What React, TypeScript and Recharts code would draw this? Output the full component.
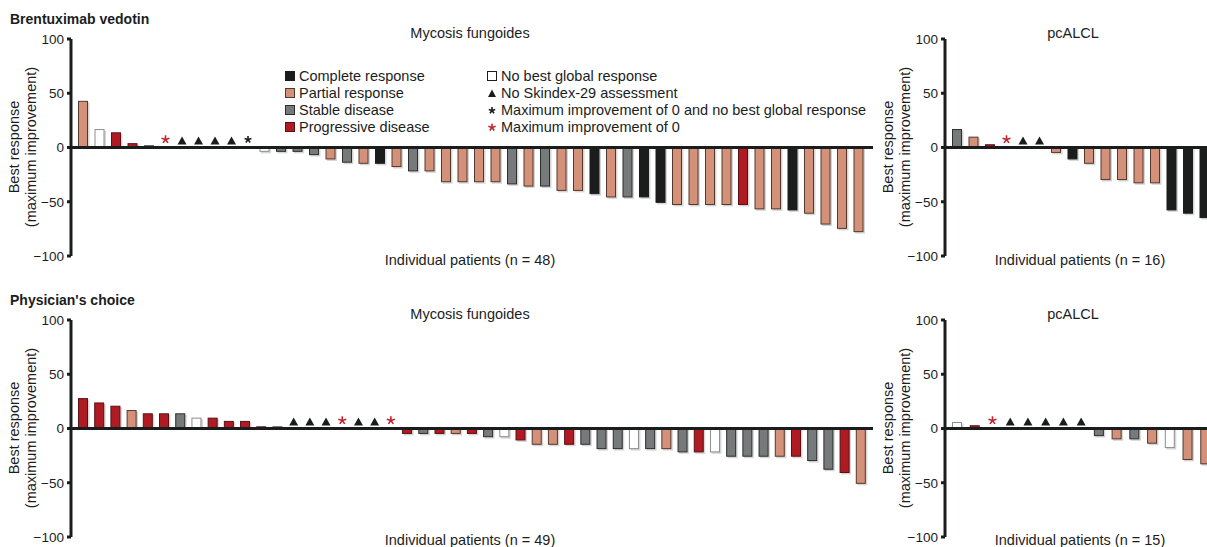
import React from "react";
import { BarChart, Bar, XAxis, YAxis, ReferenceLine } from "recharts";

type Status = "CR" | "PR" | "SD" | "PD" | "NBGR" | "NS" | "ZN" | "Z0";

// Brentuximab vedotin – mycosis fungoides (n = 48)
const BV_MF_VALUES = [
  43, 17, 14, 4, 2, 0, 0, 0, 0, 0, 0, -4, -4, -4, -7, -11, -14, -15, -15, -18,
  -22, -22, -32, -32, -32, -32, -34, -36, -36, -40, -40, -43, -46, -46, -46, -51,
  -53, -53, -53, -53, -53, -57, -57, -58, -61, -71, -75, -78,
];
const BV_MF_STATUS: Status[] = [
  "PR", "NBGR", "PD", "PD", "SD", "Z0", "NS", "NS", "NS", "NS", "ZN", "NBGR", "SD", "SD", "SD", "PR", "SD", "PR", "CR", "PR",
  "SD", "PR", "PR", "PR", "PR", "PR", "SD", "PR", "SD", "PR", "PR", "CR", "PR", "SD", "CR", "CR",
  "PR", "PR", "PR", "PR", "PD", "PR", "PR", "CR", "PR", "PR", "PR", "PR",
];

// Brentuximab vedotin – pcALCL (n = 16)
const BV_ALCL_VALUES = [17, 10, 3, 0, 0, 0, -5, -11, -15, -30, -30, -33, -33, -58, -61, -65];
const BV_ALCL_STATUS: Status[] = [
  "SD", "PR", "PD", "Z0", "NS", "NS", "PR", "CR", "PR", "PR", "PR", "PR", "PR", "CR", "CR", "CR",
];

// Physician's choice – mycosis fungoides (n = 49)
const PC_MF_VALUES = [
  28, 24, 21, 17, 14, 14, 14, 10, 10, 7, 7, 2, 2, 0, 0, 0, 0, 0, 0, 0,
  -5, -5, -5, -5, -5, -8, -8, -11, -15, -15, -15, -15, -19, -19, -19, -19, -19,
  -22, -22, -22, -26, -26, -26, -26, -26, -30, -38, -41, -51,
];
const PC_MF_STATUS: Status[] = [
  "PD", "PD", "PD", "PR", "PD", "PD", "SD", "NBGR", "PD", "PD", "PD", "PD", "PR", "NS", "NS", "NS", "Z0", "NS", "NS", "Z0",
  "PD", "SD", "PD", "PR", "PD", "SD", "NBGR", "PD", "PR", "PR", "PD", "SD", "SD", "SD", "NBGR", "SD", "PR",
  "SD", "PD", "NBGR", "SD", "SD", "SD", "PR", "PD", "SD", "SD", "PD", "PR",
];

// Physician's choice – pcALCL (n = 15)
const PC_ALCL_VALUES = [6, 3, 0, 0, 0, 0, 0, 0, -7, -10, -10, -14, -18, -29, -33];
const PC_ALCL_STATUS: Status[] = [
  "NBGR", "PD", "Z0", "NS", "NS", "NS", "NS", "NS", "SD", "PR", "SD", "PR", "NBGR", "PR", "PR",
];

const Y_TICKS = [-100, -50, 0, 50, 100];

const LEGEND_LEFT: { label: string; status: Status }[] = [
  { label: "Complete response", status: "CR" },
  { label: "Partial response", status: "PR" },
  { label: "Stable disease", status: "SD" },
  { label: "Progressive disease", status: "PD" },
];
const LEGEND_RIGHT: { label: string; status: Status }[] = [
  { label: "No best global response", status: "NBGR" },
  { label: "No Skindex-29 assessment", status: "NS" },
  { label: "Maximum improvement of 0 and no best global response", status: "ZN" },
  { label: "Maximum improvement of 0", status: "Z0" },
];

const INK = "#1b1d1d";
const RED_STAR = "#c0242c";
const PLOT_H = 217;
const FONT_SIZE = 14.5;

const COLORS: Record<string, { fill: string; stroke: string }> = {
  CR: { fill: "#1b1d1d", stroke: "#1b1d1d" },
  PR: { fill: "#d4917a", stroke: "#55382c" },
  SD: { fill: "#767a7a", stroke: "#2c2e2e" },
  PD: { fill: "#ae1b23", stroke: "#5c1014" },
  NBGR: { fill: "#ffffff", stroke: "#8e8e8e" },
};

function Star({ cx, cy, r, color }: { cx: number; cy: number; r: number; color: string }) {
  const arms = [0, 72, 144, 216, 288].map((a) => {
    const rad = ((a - 90) * Math.PI) / 180;
    return <line key={a} x1={cx} y1={cy} x2={cx + r * Math.cos(rad)} y2={cy + r * Math.sin(rad)} stroke={color} strokeWidth={1.6} />;
  });
  return <g>{arms}</g>;
}

function Marker({ status, cx, base }: { status: Status; cx: number; base: number }) {
  if (status === "NS") {
    return <path d={`M${cx - 4.5},${base - 3} L${cx + 4.5},${base - 3} L${cx},${base - 11} Z`} fill={INK} />;
  }
  if (status === "ZN") return <Star cx={cx} cy={base - 8} r={3.6} color={INK} />;
  return <Star cx={cx} cy={base - 8} r={4.2} color={RED_STAR} />;
}

const BarShape = (props: any) => {
  const { x, y, width, height, payload } = props;
  const status: Status = payload.status;
  if (status === "NS" || status === "ZN" || status === "Z0") {
    return <Marker status={status} cx={x + width / 2} base={y} />;
  }
  const c = COLORS[status];
  const top = Math.min(y, y + height);
  const h = Math.abs(height);
  if (!h) return <g />;
  return (
    <g>
      <rect x={x + 1.5} y={top + 1.5} width={width} height={h} fill="#b5b5b5" opacity={0.55} />
      <rect x={x + 0.5} y={top + 0.5} width={width - 1} height={Math.max(h - 1, 0.5)} fill={c.fill} stroke={c.stroke} strokeWidth={1} />
    </g>
  );
};

function Panel({
  values,
  statuses,
  axisX,
  plotTop,
  plotWidth,
  padLeft,
  padRight,
}: {
  values: number[];
  statuses: Status[];
  axisX: number;
  plotTop: number;
  plotWidth: number;
  padLeft: number;
  padRight: number;
}) {
  const data = values.map((v, i) => ({ patient: i + 1, value: v, status: statuses[i] }));
  const AXW = 50;
  return (
    <div style={{ position: "absolute", left: axisX - AXW, top: plotTop - 10 }}>
      <BarChart width={AXW + plotWidth} height={PLOT_H + 20} data={data} margin={{ top: 10, right: 0, bottom: 10, left: 0 }}>
        <XAxis dataKey="patient" type="category" hide padding={{ left: padLeft, right: padRight }} />
        <YAxis
          type="number"
          width={AXW}
          domain={[-100, 100]}
          ticks={Y_TICKS}
          interval={0}
          allowDataOverflow
          axisLine={{ stroke: INK, strokeWidth: 3 }}
          tickLine={{ stroke: INK, strokeWidth: 3 }}
          tickSize={4}
          tickMargin={3}
          tick={{ fill: INK, fontSize: 13.5 }}
          tickFormatter={(v: number) => (v < 0 ? `\u2212${-v}` : `${v}`)}
        />
        <Bar dataKey="value" barSize={10} isAnimationActive={false} shape={BarShape} />
        <ReferenceLine y={0} stroke={INK} strokeWidth={3} ifOverflow="visible" />
      </BarChart>
    </div>
  );
}

function Txt({
  x,
  y,
  children,
  anchor = "middle",
  bold = false,
  rotate = false,
}: {
  x: number;
  y: number;
  children: React.ReactNode;
  anchor?: "middle" | "start";
  bold?: boolean;
  rotate?: boolean;
}) {
  const tx = anchor === "start" ? "0" : "-50%";
  return (
    <div
      style={{
        position: "absolute",
        left: x,
        top: y,
        transform: `translate(${tx}, -50%)${rotate ? " rotate(-90deg)" : ""}`,
        whiteSpace: "nowrap",
        fontSize: bold ? 14 : FONT_SIZE,
        lineHeight: 1,
        fontWeight: bold ? 700 : 400,
        color: INK,
      }}
    >
      {children}
    </div>
  );
}

function LegendIcon({ status }: { status: Status }) {
  if (status === "NS" || status === "ZN" || status === "Z0") {
    return (
      <svg width={10} height={10} style={{ display: "block" }}>
        {status === "NS" ? (
          <path d="M1,9 L9,9 L5,1.5 Z" fill={INK} />
        ) : (
          <Star cx={5} cy={5.5} r={status === "ZN" ? 3.4 : 3.8} color={status === "ZN" ? INK : RED_STAR} />
        )}
      </svg>
    );
  }
  const c = COLORS[status];
  return (
    <svg width={10} height={10} style={{ display: "block" }}>
      <rect x={0.5} y={0.5} width={9} height={9} fill={c.fill} stroke={status === "NBGR" ? INK : c.stroke} strokeWidth={1} />
    </svg>
  );
}

function LegendColumn({ items, iconX, textX }: { items: { label: string; status: Status }[]; iconX: number; textX: number }) {
  return (
    <>
      {items.map((it, i) => {
        const cy = 76 + i * 17;
        return (
          <React.Fragment key={it.label}>
            <div style={{ position: "absolute", left: iconX, top: cy - 5 }}>
              <LegendIcon status={it.status} />
            </div>
            <Txt x={textX} y={cy} anchor="start">
              {it.label}
            </Txt>
          </React.Fragment>
        );
      })}
    </>
  );
}

function YLabel({ axisX, cy }: { axisX: number; cy: number }) {
  return (
    <>
      <Txt x={axisX - 57} y={cy} rotate>
        Best response
      </Txt>
      <Txt x={axisX - 40} y={cy} rotate>
        (maximum improvement)
      </Txt>
    </>
  );
}

export default function App() {
  return (
    <div
      style={{
        position: "fixed",
        left: 0,
        top: 0,
        width: 1207,
        height: 547,
        overflow: "hidden",
        background: "#fff",
        fontFamily: "'Liberation Sans', Arial, Helvetica, sans-serif",
      }}
    >
      <Txt x={10} y={19} anchor="start" bold>
        Brentuximab vedotin
      </Txt>
      <Txt x={10} y={300} anchor="start" bold>
        Physician's choice
      </Txt>

      <Txt x={470} y={33}>Mycosis fungoides</Txt>
      <Txt x={1073} y={33}>pcALCL</Txt>
      <Txt x={470} y={314}>Mycosis fungoides</Txt>
      <Txt x={1073} y={314}>pcALCL</Txt>

      <Txt x={470} y={260}>Individual patients (n = 48)</Txt>
      <Txt x={1080} y={260}>Individual patients (n = 16)</Txt>
      <Txt x={470} y={540}>Individual patients (n = 49)</Txt>
      <Txt x={1080} y={540}>Individual patients (n = 15)</Txt>

      <YLabel axisX={71} cy={147} />
      <YLabel axisX={945} cy={147} />
      <YLabel axisX={71} cy={428} />
      <YLabel axisX={945} cy={428} />

      <Panel values={BV_MF_VALUES} statuses={BV_MF_STATUS} axisX={71} plotTop={39} plotWidth={802} padLeft={4} padRight={6} />
      <Panel values={BV_ALCL_VALUES} statuses={BV_ALCL_STATUS} axisX={945} plotTop={39} plotWidth={274} padLeft={4} padRight={6} />
      <Panel values={PC_MF_VALUES} statuses={PC_MF_STATUS} axisX={71} plotTop={320} plotWidth={802} padLeft={4} padRight={4} />
      <Panel values={PC_ALCL_VALUES} statuses={PC_ALCL_STATUS} axisX={945} plotTop={320} plotWidth={274} padLeft={3} padRight={5} />

      <LegendColumn items={LEGEND_LEFT} iconX={285} textX={299} />
      <LegendColumn items={LEGEND_RIGHT} iconX={487} textX={501} />
    </div>
  );
}
